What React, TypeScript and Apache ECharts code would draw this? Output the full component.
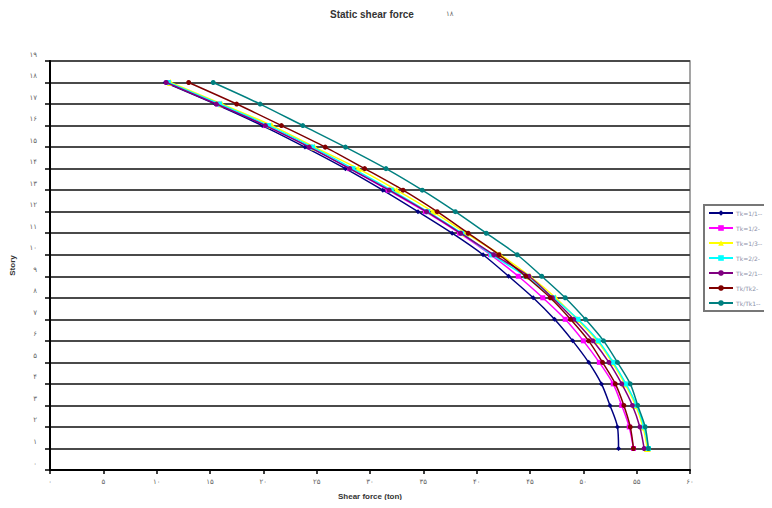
import React, { useEffect, useRef } from "react";
import * as echarts from "echarts";

// Story levels (1 = ground storey, 18 = roof)
const stories = [1, 2, 3, 4, 5, 6, 7, 8, 9, 10, 11, 12, 13, 14, 15, 16, 17, 18];

// Shear force per storey (ton), listed from storey 1 upward
const shearA = [53.3, 53.2, 52.5, 51.7, 50.5, 49.0, 47.3, 45.3, 43.0, 40.6, 37.7, 34.5, 31.2, 27.7, 23.9, 19.9, 15.5, 10.8];
const shearB = [54.7, 54.3, 53.6, 52.8, 51.5, 50.0, 48.3, 46.2, 43.9, 41.3, 38.4, 35.2, 31.7, 28.1, 24.4, 20.2, 15.8, 11.0];
const shearC = [56.0, 55.6, 54.9, 53.9, 52.7, 51.3, 49.4, 47.4, 45.0, 42.2, 39.0, 35.9, 32.5, 28.9, 24.8, 20.8, 16.1, 11.3];
const shearD = [56.1, 55.7, 55.0, 54.0, 52.8, 51.4, 49.5, 47.2, 44.6, 41.4, 38.6, 35.4, 32.0, 28.4, 24.6, 20.5, 15.9, 11.1];
const shearE = [55.7, 55.3, 54.6, 53.6, 52.4, 50.9, 49.1, 47.1, 44.9, 41.6, 38.5, 35.3, 31.8, 28.1, 24.3, 20.2, 15.6, 10.9];
const shearF = [54.7, 54.4, 53.8, 53.0, 51.8, 50.5, 48.8, 46.9, 44.6, 42.1, 39.2, 36.3, 33.1, 29.5, 25.8, 21.7, 17.5, 13.0];
const shearG = [56.1, 55.8, 55.1, 54.4, 53.2, 51.9, 50.2, 48.3, 46.1, 43.8, 40.9, 38.0, 34.9, 31.5, 27.7, 23.7, 19.7, 15.3];

const seriesNames = ["Tk=1/1--", "Tk=1/2-", "Tk=1/3--", "Tk=2/2-", "Tk=2/1--", "Tk/Tk2-", "Tk/Tk1--"];
const seriesColors = ["#000080", "#FF00FF", "#FFFF00", "#00FFFF", "#800080", "#800000", "#008080"];
const seriesSymbols = ["diamond", "rect", "triangle", "rect", "circle", "circle", "circle"];
const seriesValues = [shearA, shearB, shearC, shearD, shearE, shearF, shearG];

// Extended Arabic-Indic (Persian) digits used on the tick labels
const persianDigits = ["۰", "۱", "۲", "۳", "۴", "۵", "۶", "۷", "۸", "۹"];
const toPersian = (v: number) =>
  String(v).replace(/[0-9]/g, (d) => persianDigits[Number(d)]);

const FONT = "DejaVu Sans";

export default function App() {
  const ref = useRef<HTMLDivElement>(null);

  useEffect(() => {
    if (!ref.current) return;
    const chart = echarts.init(ref.current, undefined, { renderer: "svg" });

    const series = seriesValues.map((vals, i) => ({
      name: seriesNames[i],
      type: "line",
      data: vals.map((v, k) => [v, stories[k]]),
      smooth: 0.3,
      symbol: seriesSymbols[i],
      symbolSize: i === 2 ? 7 : 5,
      showSymbol: true,
      lineStyle: { color: seriesColors[i], width: 1.5 },
      itemStyle: { color: seriesColors[i] },
      z: 3 + i,
    }));

    chart.setOption({
      animation: false,
      backgroundColor: "#ffffff",
      graphic: [
        {
          type: "text",
          left: 330,
          top: 9,
          style: {
            text: "Static shear force",
            font: `bold 10px "Liberation Sans"`,
            fill: "#333",
          },
        },
        {
          type: "text",
          left: 446,
          top: 10,
          style: {
            text: toPersian(18),
            font: `7px "${FONT}"`,
            fill: "#666",
          },
        },
      ],
      grid: {
        left: 50,
        right: 82,
        top: 61,
        bottom: 38,
        show: true,
        borderColor: "#888",
        borderWidth: 1.5,
      },
      legend: {
        orient: "vertical",
        left: 704,
        top: 205,
        itemWidth: 24,
        itemHeight: 7,
        itemGap: 9,
        padding: [5, 14, 5, 4],
        borderColor: "#777",
        borderWidth: 2,
        textStyle: { fontSize: 6, color: "#8a8fa8", fontFamily: FONT, padding: [0, 0, 0, -2] },
        data: seriesNames,
      },
      xAxis: {
        type: "value",
        min: 0,
        max: 60,
        interval: 5,
        name: "Shear force (ton)",
        nameLocation: "middle",
        nameGap: 22,
        nameTextStyle: {
          fontFamily: "Liberation Sans",
          fontWeight: "bold",
          fontSize: 8,
          color: "#333",
        },
        axisLine: { show: true, lineStyle: { color: "#000", width: 2 } },
        axisTick: { show: true, length: 4, lineStyle: { color: "#000", width: 1.5 } },
        axisLabel: {
          formatter: (v: number) => toPersian(v),
          fontSize: 7,
          fontFamily: FONT,
          color: "#666",
          margin: 8,
        },
        splitLine: { show: false },
      },
      yAxis: {
        type: "value",
        min: 0,
        max: 19,
        interval: 1,
        name: "Story",
        nameLocation: "middle",
        nameGap: 34,
        nameRotate: 90,
        nameTextStyle: {
          fontFamily: "Liberation Sans",
          fontWeight: "bold",
          fontSize: 8,
          color: "#333",
        },
        axisLine: { show: true, lineStyle: { color: "#000", width: 2 } },
        axisTick: { show: true, length: 5, lineStyle: { color: "#000", width: 1.5 } },
        axisLabel: {
          formatter: (v: number) => toPersian(v),
          fontSize: 7,
          fontFamily: FONT,
          color: "#666",
          margin: 13,
          verticalAlign: "bottom",
          padding: [0, 0, 3, 0],
        },
        splitLine: { show: true, lineStyle: { color: "#4a4a4a", width: 2 } },
      },
      series,
    });

    return () => chart.dispose();
  }, []);

  return <div ref={ref} style={{ width: 772, height: 508, margin: -8 }} />;
}
